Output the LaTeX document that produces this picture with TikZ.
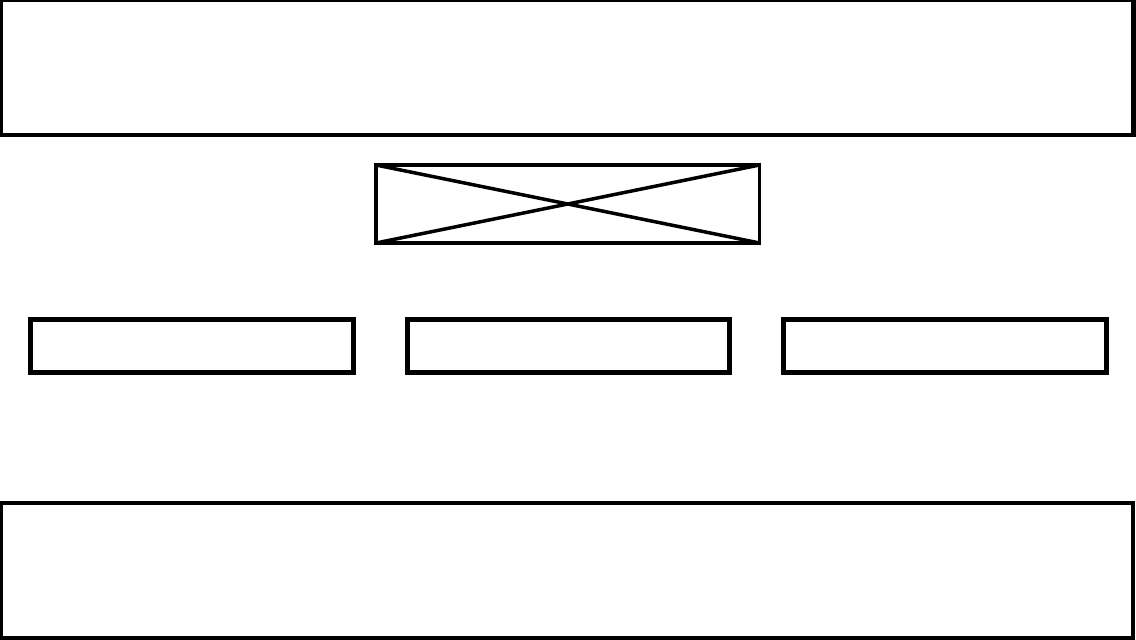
\documentclass[tikz,border=0pt]{standalone}
\usepackage{tikz}
\usetikzlibrary{
	positioning,
	calc,
}
\tikzset{band/.style={
		% The shape:
		rectangle,
		% The size:
		minimum width=1132.5pt,minimum height=135pt,
		% The border:
		line width=4.5pt,draw=black,
		inner sep=0pt,outer sep=0pt,
}}
\tikzset{picbox/.style={
		% The shape:
		rectangle,
		% The size:
		minimum width=383.5pt,minimum height=78pt,
		% The border:
		line width=3.5pt,draw=black,
		inner sep=0pt,outer sep=0pt,
}}
\tikzset{fieldbox/.style={
		% The shape:
		rectangle,
		% The size:
		minimum width=322.5pt,minimum height=52.5pt,
		% The border:
		line width=5pt,draw=black,
		inner sep=0pt,outer sep=0pt,
}}

\begin{document}
\begin{tikzpicture}[x=1pt,y=-1pt,black,
	node distance=54pt]
	\useasboundingbox (0,0) rectangle (1136,640);
	% header and footer
	\node [band] (header) at (567.25,67.5) {};
	\node [band, minimum width=1132pt] (footer) at (567,570.5) {};
	% image placeholder
	\node [picbox] (image) at (567.75,204) {};
	\draw [line width=3.5pt] (image.north west) -- (image.south east);
	\draw [line width=3.5pt] (image.south west) -- (image.north east);
	% three fields
	\node [fieldbox] (field1) at (191.75,345.75) {};
	\node [fieldbox, right=of field1] (field2) {};
	\node [fieldbox, right=of field2] (field3) {};
\end{tikzpicture}
\end{document}
